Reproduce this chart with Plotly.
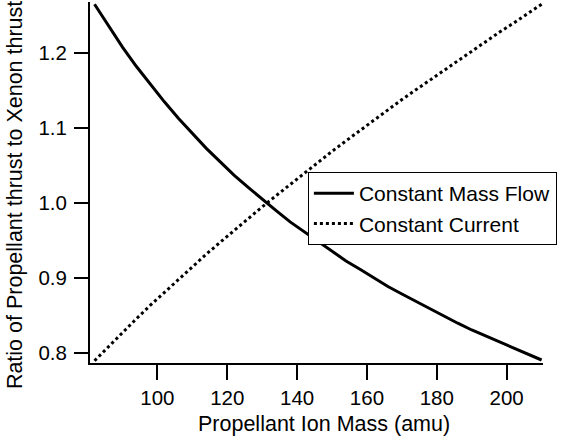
import plotly.graph_objects as go

mass_amu = [82, 86, 90, 94, 98, 102, 106, 110, 114, 118, 122, 126, 130, 134, 138, 142,
            146, 150, 154, 158, 162, 166, 170, 174, 178, 182, 186, 190, 194, 198, 202, 206, 210]
const_mass_flow = [1.265, 1.236, 1.208, 1.182, 1.158, 1.135, 1.113, 1.093, 1.073, 1.055, 1.037,
                   1.021, 1.005, 0.990, 0.975, 0.962, 0.948, 0.936, 0.923, 0.912, 0.900, 0.889,
                   0.879, 0.869, 0.859, 0.849, 0.840, 0.831, 0.823, 0.814, 0.806, 0.798, 0.791]
const_current = [0.790, 0.809, 0.828, 0.846, 0.864, 0.881, 0.899, 0.915, 0.932, 0.948, 0.964,
                 0.980, 0.995, 1.010, 1.025, 1.040, 1.055, 1.069, 1.083, 1.097, 1.111, 1.124,
                 1.138, 1.151, 1.164, 1.177, 1.190, 1.203, 1.216, 1.228, 1.240, 1.253, 1.265]
x_ticks = [100, 120, 140, 160, 180, 200]
y_ticks = [0.8, 0.9, 1.0, 1.1, 1.2]
x_title = "Propellant Ion Mass (amu)"
y_title = "Ratio of Propellant thrust to Xenon thrust"

FONT = "Liberation Sans, Arial, Helvetica, sans-serif"

fig = go.Figure()
fig.add_trace(go.Scatter(x=mass_amu, y=const_mass_flow, mode="lines",
                         name="Constant Mass Flow",
                         line=dict(color="black", width=3)))
fig.add_trace(go.Scatter(x=mass_amu, y=const_current, mode="lines",
                         name="Constant Current",
                         line=dict(color="black", width=3, dash="dot")))

fig.update_layout(
    width=564, height=443,
    margin=dict(l=90, r=21, t=2, b=80),
    paper_bgcolor="white", plot_bgcolor="white",
    font=dict(family=FONT, size=20.5, color="black"),
    showlegend=True,
    legend=dict(x=0.481, y=0.529, xanchor="left", yanchor="top",
                bgcolor="white", bordercolor="black", borderwidth=1,
                font=dict(size=21), tracegroupgap=0, itemwidth=40),
    xaxis=dict(range=[80.7, 210.4], tickvals=x_ticks, ticks="outside", ticklen=15,
               tickwidth=1.5, tickcolor="black", showline=True, linecolor="black",
               linewidth=2, showgrid=False, zeroline=False, automargin=False),
    yaxis=dict(range=[0.787, 1.268], tickvals=y_ticks, tickformat=".1f", ticks="outside",
               ticklen=14, tickwidth=1.5, tickcolor="black", showline=True,
               linecolor="black", linewidth=2, showgrid=False, zeroline=False,
               automargin=False, ticklabelstandoff=3),
    annotations=[
        dict(text=x_title, xref="paper", yref="paper", x=0.517, y=-0.169,
             xanchor="center", yanchor="middle", showarrow=False,
             font=dict(size=21.5)),
        dict(text=y_title, xref="paper", yref="paper", x=-0.1656, y=0.465,
             xanchor="center", yanchor="middle", textangle=-90, showarrow=False,
             font=dict(size=21.5)),
    ],
)

fig.write_html("out.html", config={"displayModeBar": False},
               post_script="document.body.style.margin='0';document.body.style.padding='0';")
